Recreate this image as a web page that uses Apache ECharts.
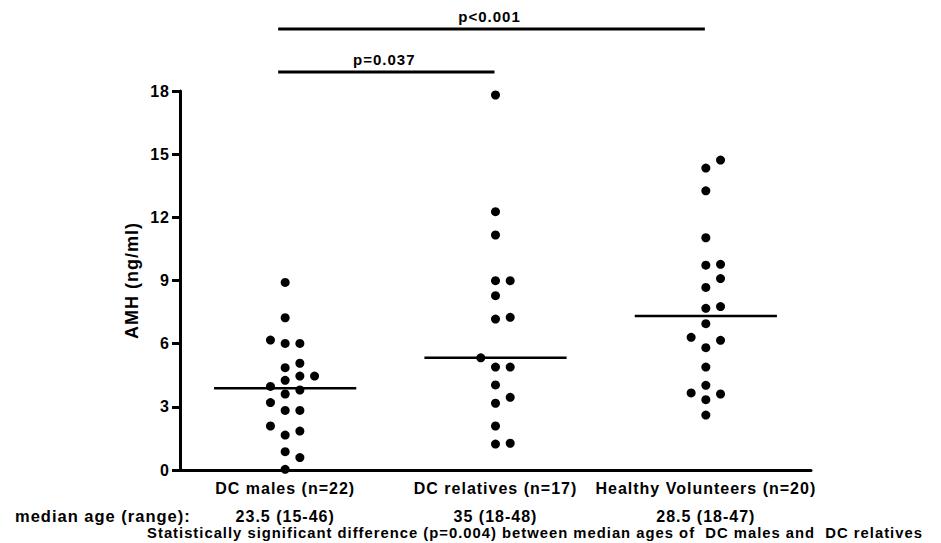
<!DOCTYPE html>
<html>
<head>
<meta charset="utf-8">
<script src="https://cdn.jsdelivr.net/npm/echarts@6/dist/echarts.min.js"></script>
<style>
  html, body { margin: 0; padding: 0; background: #fff; }
  #chart { width: 941px; height: 543px; }
  /* slightly spaced-out lettering for every label */
  #chart svg text { letter-spacing: 1px; }
</style>
</head>
<body>
<div id="chart"></div>
<script>
// ---- data ----
const groups = ['DC males (n=22)', 'DC relatives (n=17)', 'Healthy Volunteers (n=20)'];
const medianAges = ['23.5 (15-46)', '35 (18-48)', '28.5 (18-47)'];

// AMH (ng/ml) per subject
const dcMales = [8.91, 7.23, 6.17, 6.01, 6.01, 5.07, 4.86, 4.46, 4.46, 4.26, 3.97,
                 3.80, 3.61, 3.20, 2.83, 2.83, 2.09, 1.85, 1.66, 0.87, 0.59, 0.03];
const dcRelatives = [17.81, 12.27, 11.16, 8.99, 8.99, 8.28, 7.25, 7.17, 5.33, 4.89,
                     4.89, 4.04, 3.45, 3.17, 2.09, 1.27, 1.23];
const healthyVolunteers = [14.72, 14.34, 13.26, 11.03, 9.77, 9.73, 9.09, 8.67, 7.76, 7.68,
                           6.95, 6.30, 6.16, 5.81, 4.89, 4.02, 3.66, 3.61, 3.34, 2.61];

const yTicks = [0, 3, 6, 9, 12, 15, 18];

// pairwise comparisons shown as brackets above the plot
const comparisons = [
  { from: 0, to: 1, label: 'p=0.037' },
  { from: 0, to: 2, label: 'p<0.001' }
];

const ageRowTitle = 'median age (range):';
const ageNote = 'Statistically significant difference (p=0.004) between median ages of  DC males and  DC relatives';

// ---- layout ----
const FONT = '"Liberation Sans", Arial, Helvetica, sans-serif';
const GRID = { left: 180, top: 91, width: 631, height: 379 };
const Y_MIN = yTicks[0];
const Y_MAX = yTicks[yTicks.length - 1];
const DOT_SIZE = 9;
const SLOT_PX = 14.7;     // horizontal spacing between swarm columns
const MIN_GAP_PX = 12.5;  // minimum centre distance between two dots

const allGroups = [dcMales, dcRelatives, healthyVolunteers];

function median(values) {
  const s = values.slice().sort((a, b) => a - b);
  const m = Math.floor(s.length / 2);
  return s.length % 2 ? s[m] : (s[m - 1] + s[m]) / 2;
}

// simple greedy beeswarm: walk values upward, put each dot in the
// first column (centre, right, left, ...) where it does not overlap
function beeswarmSlots(values) {
  const pxPerUnit = GRID.height / (Y_MAX - Y_MIN);
  const order = values.map((_, i) => i).sort((a, b) => values[a] - values[b]);
  const tries = [0, 1, -1, 2, -2, 3, -3];
  const placed = [];
  const slots = new Array(values.length).fill(0);
  order.forEach(i => {
    const y = values[i] * pxPerUnit;
    for (const s of tries) {
      const free = placed.every(p => Math.hypot((p.s - s) * SLOT_PX, p.y - y) >= MIN_GAP_PX);
      if (free) { slots[i] = s; placed.push({ s, y }); break; }
    }
  });
  return slots;
}

const dotSeries = allGroups.map((values, gi) => {
  const slots = beeswarmSlots(values);
  return {
    type: 'scatter',
    symbol: 'circle',
    symbolSize: DOT_SIZE,
    itemStyle: { color: '#000', opacity: 1 },
    z: 3,
    data: values.map((v, i) => ({ value: [gi, v], symbolOffset: [slots[i] * SLOT_PX, 0] }))
  };
});

const medianSeries = {
  type: 'custom',
  z: 2,
  data: allGroups.map((values, gi) => [gi, median(values)]),
  renderItem(params, api) {
    const c = api.coord([api.value(0), api.value(1)]);
    const half = api.size([1, 0])[0] * 0.338;
    return {
      type: 'line',
      shape: { x1: c[0] - half, y1: c[1], x2: c[0] + half, y2: c[1] },
      style: { stroke: '#000', lineWidth: 2.5 }
    };
  }
};

const bracketSeries = {
  type: 'custom',
  clip: false,
  z: 4,
  data: comparisons.map((c, tier) => [c.from, c.to, tier]),
  renderItem(params, api) {
    const cmp = comparisons[params.dataIndex];
    const tier = api.value(2);
    const top = api.coord([0, Y_MAX])[1];
    const y = top - 19 - tier * 43;
    const x1 = api.coord([api.value(0), Y_MAX])[0] - 7;
    const x2 = api.coord([api.value(1), Y_MAX])[0] - 1;
    return {
      type: 'group',
      children: [
        { type: 'line', shape: { x1, y1: y, x2, y2: y }, style: { stroke: '#000', lineWidth: 3 } },
        {
          type: 'text',
          x: (x1 + x2) / 2 - 2, y: y - 13,
          style: {
            text: cmp.label, fill: '#000', fontSize: 15, fontWeight: 'bold', fontFamily: FONT,
            align: 'center', verticalAlign: 'middle'
          }
        }
      ]
    };
  }
};

const chart = echarts.init(document.getElementById('chart'), null, { renderer: 'svg' });
chart.setOption({
  animation: false,
  backgroundColor: '#fff',
  textStyle: { fontFamily: FONT, color: '#000' },
  grid: { left: GRID.left, top: GRID.top, width: GRID.width, height: GRID.height, containLabel: false },
  xAxis: {
    type: 'category',
    data: groups,
    boundaryGap: true,
    axisLine: { lineStyle: { color: '#000', width: 3 } },
    axisTick: { alignWithLabel: true, length: 7, lineStyle: { color: '#000', width: 3 } },
    splitLine: { show: false },
    axisLabel: {
      interval: 0,
      margin: 5,
      color: '#000',
      formatter: (v, i) => `{g|${v}}\n{a|${medianAges[i]}}`,
      rich: {
        g: { fontSize: 16, fontWeight: 'bold', fontFamily: FONT, color: '#000', lineHeight: 26 },
        a: { fontSize: 16, fontWeight: 'bold', fontFamily: FONT, color: '#000', lineHeight: 30 }
      }
    }
  },
  yAxis: {
    type: 'value',
    min: Y_MIN,
    max: Y_MAX,
    interval: yTicks[1] - yTicks[0],
    name: 'AMH (ng/ml)',
    nameLocation: 'middle',
    nameGap: 37,
    nameTextStyle: { fontSize: 18, fontWeight: 'bold', fontFamily: FONT, color: '#000' },
    axisLine: { show: true, lineStyle: { color: '#000', width: 3 } },
    axisTick: { show: true, length: 8, lineStyle: { color: '#000', width: 3 } },
    axisLabel: { margin: 10, fontSize: 16, fontWeight: 'bold', color: '#000', fontFamily: FONT },
    splitLine: { show: false }
  },
  graphic: [
    {
      type: 'text', left: 15, top: 507,
      style: { text: ageRowTitle, fontSize: 16.5, fontWeight: 'bold', fontFamily: FONT, fill: '#000' }
    },
    {
      type: 'text', x: 535, y: 533,
      style: { text: ageNote, fontSize: 14.8, fontWeight: 'bold', fontFamily: FONT, fill: '#000',
               align: 'center', verticalAlign: 'middle' }
    }
  ],
  series: [medianSeries, ...dotSeries, bracketSeries]
});
</script>
</body>
</html>
